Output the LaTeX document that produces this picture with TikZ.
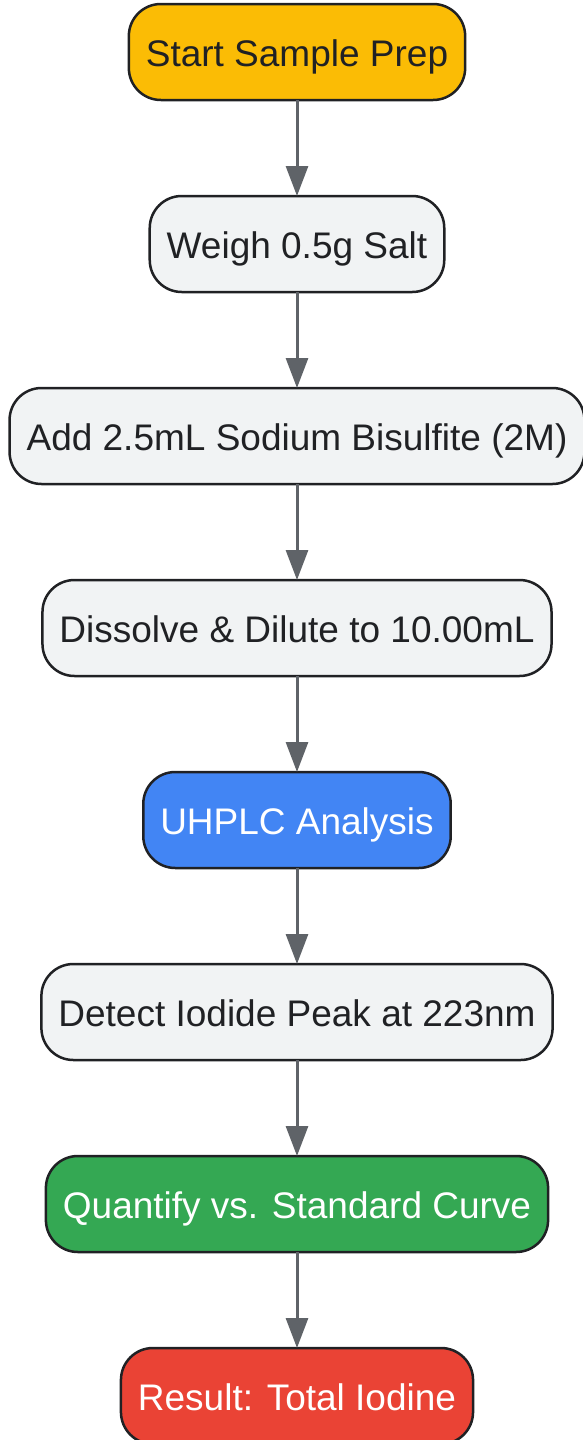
\documentclass[tikz,border=0pt]{standalone}
\usepackage{fontspec}
\setmainfont{Liberation Sans}
\usetikzlibrary{positioning, arrows.meta}

\definecolor{stepgrey}{HTML}{F1F3F4}
\definecolor{startyellow}{HTML}{FBBC05}
\definecolor{runblue}{HTML}{4285F4}
\definecolor{quantgreen}{HTML}{34A853}
\definecolor{resultred}{HTML}{EA4335}
\definecolor{edgedark}{HTML}{202124}
\definecolor{arrowgrey}{HTML}{5F6368}

\begin{document}
\begin{tikzpicture}[
        box/.style={draw=edgedark, line width=2.5pt, rounded corners=32pt,
            minimum height=96pt, inner xsep=17pt, outer sep=0pt,
            text height=28pt, text depth=0pt, text=edgedark,
            font=\fontsize{37}{44}\selectfont, fill=stepgrey},
        flow/.style={draw=arrowgrey, line width=3pt,
            -{Triangle[width=22pt,length=30pt]}}
    ]
    \useasboundingbox (0,0) rectangle (582pt,-1440pt);

    \node[box, fill=startyellow] (start) at (297pt,-52pt) {Start Sample Prep};
    \node[box, below=96pt of start] (weigh) {Weigh 0.5g Salt};
    \node[box, below=96pt of weigh] (add) {Add 2.5mL Sodium Bisulfite (2M)};
    \node[box, below=96pt of add] (dissolve) {Dissolve \& Dilute to 10.00mL};
    \node[box, below=96pt of dissolve, fill=runblue, text=white] (uhplc) {UHPLC Analysis};
    \node[box, below=96pt of uhplc] (detect) {Detect Iodide Peak at 223nm};
    \node[box, below=96pt of detect, fill=quantgreen, text=white] (quant) {Quantify vs. Standard Curve};
    \node[box, below=96pt of quant, fill=resultred, text=white] (result) {Result: Total Iodine};

    \foreach \a/\b in {start/weigh, weigh/add, add/dissolve, dissolve/uhplc,
            uhplc/detect, detect/quant, quant/result}{%
            \draw[flow] (\a) -- (\b);
        }
\end{tikzpicture}
\end{document}
